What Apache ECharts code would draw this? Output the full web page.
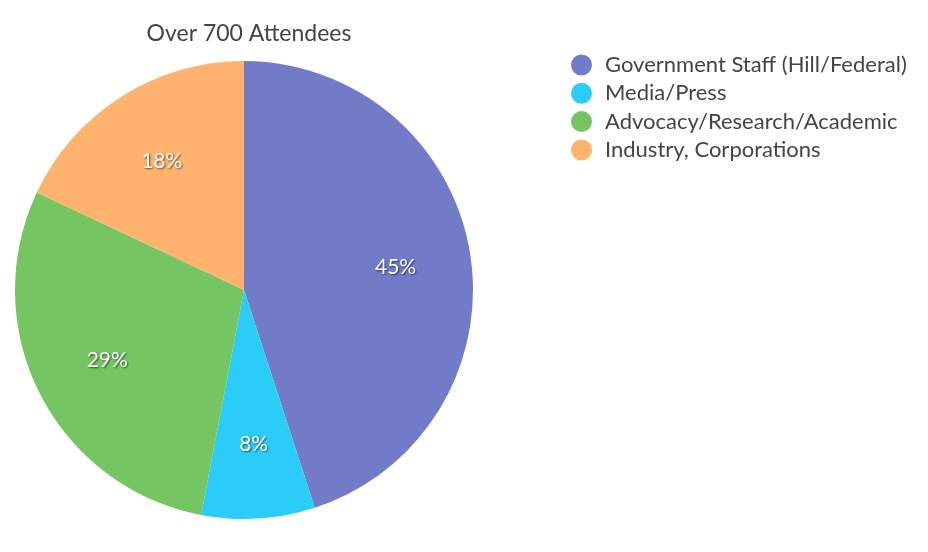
<!DOCTYPE html>
<html><head><meta charset="utf-8">
<script src="https://cdn.jsdelivr.net/npm/echarts@6/dist/echarts.min.js"></script>
<style>html,body{margin:0;padding:0;background:#fff}#c{width:928px;height:552px}</style>
</head><body><div id="c"></div>
<script>
const categories = ['Government Staff (Hill/Federal)', 'Media/Press', 'Advocacy/Research/Academic', 'Industry, Corporations'];
const values = [45, 8, 29, 18];
const colors = ['#727bc8', '#2bcdf8', '#75c663', '#ffb36e'];
const titleText = 'Over 700 Attendees';
const FONT = 'Lato, "Noto Sans", sans-serif';

const chart = echarts.init(document.getElementById('c'));
const data = categories.map((n, i) => ({ name: n, value: values[i], itemStyle: { color: colors[i] } }));
chart.setOption({
  animation: false,
  title: { text: titleText, left: 244, top: 17, textAlign: 'center',
    textStyle: { fontFamily: FONT, fontSize: 23, fontWeight: 'normal', color: '#444' } },
  legend: { orient: 'vertical', left: 566, top: 49, icon: 'circle', itemWidth: 21, itemHeight: 21, itemGap: 6.3,
    data: categories,
    textStyle: { fontFamily: FONT, fontSize: 22, color: '#444', padding: [0, 0, 0, 8] } },
  series: [
    { type: 'pie', center: [244, 290], radius: [0, 229], startAngle: 90, clockwise: true,
      data: data, label: { show: false }, labelLine: { show: false }, emphasis: { disabled: true } },
    { type: 'pie', center: [244, 291], radius: [72, 229], startAngle: 90, clockwise: true, silent: true,
      data: data.map(d => ({ name: d.name, value: d.value, itemStyle: { color: 'rgba(0,0,0,0)' } })),
      label: { show: true, position: 'inside', formatter: p => p.value + '%', fontFamily: FONT, fontSize: 21,
        color: '#fff', textShadowColor: 'rgba(0,0,0,0.6)', textShadowBlur: 2, textShadowOffsetX: 1, textShadowOffsetY: 1 },
      labelLine: { show: false }, emphasis: { disabled: true } }
  ]
});
</script></body></html>
